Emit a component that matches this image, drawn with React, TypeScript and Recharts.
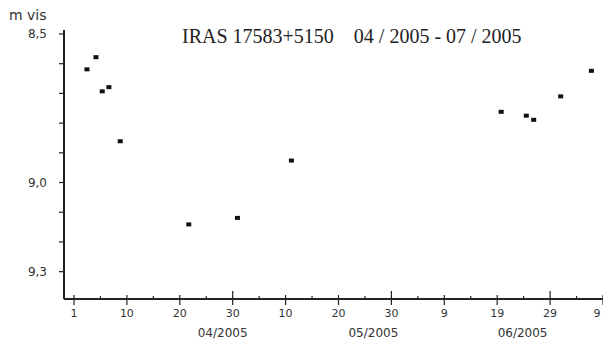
import React from "react";
import { Scatter, ScatterChart, XAxis, YAxis } from "recharts";

// day 0 = first tick ("1" of April), ticks every 10 days
const obsDays = [2.45, 4.15, 5.34, 6.6, 8.74, 21.7, 30.9, 41.1, 80.75, 85.5, 86.9, 92.0, 97.8];
const obsMags = [8.619, 8.578, 8.693, 8.679, 8.861, 9.141, 9.119, 8.926, 8.762, 8.775, 8.789, 8.71, 8.624];

const dayTicks = [0, 10, 20, 30, 40, 50, 60, 70, 80, 90, 100];
const dayLabels = ["1", "10", "20", "30", "10", "20", "30", "9", "19", "29", "9"];
const tallTicks = [30, 60, 90];

const monthTicks = [28.1, 56.6, 84.8];
const monthLabels = ["04/2005", "05/2005", "06/2005"];

const magTicks = [8.5, 8.6, 8.7, 8.8, 8.9, 9.0, 9.1, 9.2, 9.3];
const magLabels: Record<string, string> = { "8.5": "8,5", "9": "9,0", "9.3": "9,3" };

const data = obsDays.map((d, i) => ({ day: d, mag: obsMags[i] }));

const minorTicks = dayTicks.slice(0, -1).map((t, i) => (t + dayTicks[i + 1]) / 2);
const allTicks = [...dayTicks, ...minorTicks, ...monthTicks].sort((a, b) => a - b);

const ink = "#222";
const sans = "'DejaVu Sans', Verdana, sans-serif";

// one renderer for day ticks, minor ticks and the month captions below them
const DayTick = (props: any) => {
  const { x, y, payload } = props;
  const v = payload.value;
  const m = monthTicks.indexOf(v);
  if (m >= 0) {
    return (
      <text x={x} y={y + 38} textAnchor="middle" fontSize={12} fontFamily={sans} fill="#333">
        {monthLabels[m]}
      </text>
    );
  }
  const idx = dayTicks.indexOf(v);
  if (idx < 0) {
    return <line x1={x} x2={x} y1={y - 3} y2={y} stroke={ink} strokeWidth={1.2} />;
  }
  const tall = tallTicks.includes(v);
  const last = idx === dayTicks.length - 1;
  return (
    <g>
      <line x1={x} x2={x} y1={y - (tall ? 8 : 4)} y2={y + 6} stroke={ink} strokeWidth={1.2} />
      <text x={last ? x - 6 : x} y={y + 18} textAnchor="middle" fontSize={11} fontFamily={sans} fill="#333">
        {dayLabels[idx]}
      </text>
    </g>
  );
};

const Dot = (props: any) => {
  const { cx, cy } = props;
  return <rect x={cx - 2.5} y={cy - 2} width={5} height={4} fill="#111" />;
};

export default function App() {
  return (
    <div style={{ position: "absolute", left: 0, top: 0, width: 603, height: 342, background: "#fff" }}>
      <ScatterChart width={603} height={342} margin={{ top: 30, right: 0, bottom: 1, left: 0 }}>
        <XAxis
          dataKey="day"
          type="number"
          domain={[-1.887, 100]}
          ticks={allTicks}
          interval={0}
          height={42}
          tickSize={0}
          tickMargin={0}
          tickLine={false}
          axisLine={{ stroke: ink, strokeWidth: 2 }}
          tick={<DayTick />}
        />
        <YAxis
          dataKey="mag"
          type="number"
          reversed
          domain={[8.4866, 9.392]}
          ticks={magTicks}
          interval={0}
          width={64}
          tickSize={5}
          tickMargin={12}
          axisLine={{ stroke: ink, strokeWidth: 2 }}
          tickLine={{ stroke: ink, strokeWidth: 1.2 }}
          tick={{ fontSize: 12, fontFamily: sans, fill: "#333" }}
          tickFormatter={(v: number) => magLabels[String(v)] ?? ""}
        />
        <Scatter data={data} shape={<Dot />} isAnimationActive={false} />
      </ScatterChart>
      <svg width={603} height={60} style={{ position: "absolute", left: 0, top: 0, pointerEvents: "none" }}>
        <text x={9} y={20} fontSize={14} fontFamily={sans} fill="#333">
          m vis
        </text>
        <text
          x={182}
          y={43}
          fontSize={20}
          fontFamily="'Liberation Serif', 'Times New Roman', serif"
          fill={ink}
          style={{ whiteSpace: "pre" }}
        >
          {"IRAS 17583+5150    04 / 2005 - 07 / 2005"}
        </text>
      </svg>
    </div>
  );
}
